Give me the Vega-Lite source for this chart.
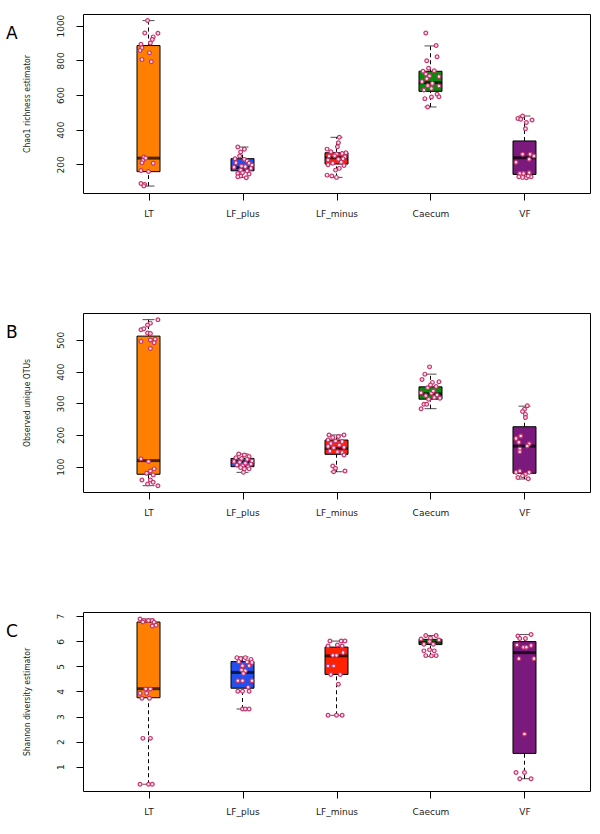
{
  "$schema": "https://vega.github.io/schema/vega-lite/v6.json",
  "padding": {"left": 5, "top": 13, "right": 5, "bottom": 5},
  "background": "white",
  "config": {
    "view": {"stroke": "#000", "strokeWidth": 1},
    "axis": {"grid": false, "domain": false, "tickColor": "#000", "tickSize": 7, "labelFont": "DejaVu Sans", "labelFontSize": 9, "labelColor": "#222", "titleFont": "DejaVu Sans Condensed, DejaVu Sans", "titleFontSize": 8.5, "titleFontWeight": "normal", "titleColor": "#222"},
    "title": {"font": "DejaVu Sans", "fontSize": 17, "fontWeight": "normal", "color": "#000", "anchor": "start", "frame": "group", "offset": 0, "baseline": "alphabetic", "dx": -77, "dy": 33}
  },
  "datasets": {
    "box": [
      {"p":"A","g":"LT","lo":75,"q1":158,"md":236,"q3":885,"hi":1029},
      {"p":"A","g":"LF_plus","lo":125,"q1":163,"md":181,"q3":233,"hi":300},
      {"p":"A","g":"LF_minus","lo":125,"q1":202,"md":238,"q3":267,"hi":356},
      {"p":"A","g":"Caecum","lo":531,"q1":621,"md":671,"q3":737,"hi":883},
      {"p":"A","g":"VF","lo":129,"q1":142,"md":238,"q3":335,"hi":479},
      {"p":"B","g":"LT","lo":40,"q1":76,"md":119,"q3":512,"hi":564},
      {"p":"B","g":"LF_plus","lo":82,"q1":100,"md":116,"q3":126,"hi":140},
      {"p":"B","g":"LF_minus","lo":84,"q1":139,"md":158,"q3":184,"hi":200},
      {"p":"B","g":"Caecum","lo":283,"q1":313,"md":330,"q3":352,"hi":392},
      {"p":"B","g":"VF","lo":61,"q1":79,"md":165,"q3":226,"hi":291},
      {"p":"C","g":"LT","lo":0.30,"q1":3.75,"md":4.11,"q3":6.77,"hi":6.89},
      {"p":"C","g":"LF_plus","lo":3.30,"q1":4.13,"md":4.76,"q3":5.19,"hi":5.38},
      {"p":"C","g":"LF_minus","lo":3.05,"q1":4.68,"md":5.42,"q3":5.77,"hi":6.01},
      {"p":"C","g":"Caecum","lo":5.39,"q1":5.87,"md":5.97,"q3":6.08,"hi":6.23},
      {"p":"C","g":"VF","lo":0.52,"q1":1.53,"md":5.55,"q3":5.99,"hi":6.27}
    ],
    "pts": [
      {"p":"A","g":"LT","v":1029,"j":-0.01},{"p":"A","g":"LT","v":958,"j":-0.04},{"p":"A","g":"LT","v":956,"j":0.1},{"p":"A","g":"LT","v":935,"j":0.05},{"p":"A","g":"LT","v":920,"j":0.04},{"p":"A","g":"LT","v":900,"j":0.02},{"p":"A","g":"LT","v":893,"j":-0.08},{"p":"A","g":"LT","v":872,"j":-0.07},{"p":"A","g":"LT","v":857,"j":-0.09},{"p":"A","g":"LT","v":843,"j":0.01},{"p":"A","g":"LT","v":804,"j":-0.07},{"p":"A","g":"LT","v":792,"j":0.03},{"p":"A","g":"LT","v":243,"j":-0.05},{"p":"A","g":"LT","v":236,"j":-0.03},{"p":"A","g":"LT","v":222,"j":-0.06},{"p":"A","g":"LT","v":210,"j":-0.07},{"p":"A","g":"LT","v":207,"j":0.05},{"p":"A","g":"LT","v":165,"j":-0.08},{"p":"A","g":"LT","v":159,"j":0.0},{"p":"A","g":"LT","v":90,"j":-0.08},{"p":"A","g":"LT","v":84,"j":-0.04},{"p":"A","g":"LT","v":76,"j":-0.05},
      {"p":"A","g":"LF_plus","v":300,"j":-0.05},{"p":"A","g":"LF_plus","v":287,"j":0.02},{"p":"A","g":"LF_plus","v":271,"j":-0.02},{"p":"A","g":"LF_plus","v":248,"j":-0.03},{"p":"A","g":"LF_plus","v":233,"j":-0.08},{"p":"A","g":"LF_plus","v":229,"j":0.02},{"p":"A","g":"LF_plus","v":219,"j":0.05},{"p":"A","g":"LF_plus","v":210,"j":-0.07},{"p":"A","g":"LF_plus","v":206,"j":0.07},{"p":"A","g":"LF_plus","v":196,"j":0.1},{"p":"A","g":"LF_plus","v":190,"j":-0.01},{"p":"A","g":"LF_plus","v":183,"j":-0.09},{"p":"A","g":"LF_plus","v":187,"j":0.03},{"p":"A","g":"LF_plus","v":177,"j":0.09},{"p":"A","g":"LF_plus","v":167,"j":-0.02},{"p":"A","g":"LF_plus","v":162,"j":0.05},{"p":"A","g":"LF_plus","v":152,"j":0.0},{"p":"A","g":"LF_plus","v":148,"j":-0.05},{"p":"A","g":"LF_plus","v":144,"j":0.07},{"p":"A","g":"LF_plus","v":133,"j":-0.02},{"p":"A","g":"LF_plus","v":123,"j":0.04},{"p":"A","g":"LF_plus","v":129,"j":-0.05},
      {"p":"A","g":"LF_minus","v":356,"j":0.03},{"p":"A","g":"LF_minus","v":325,"j":0.02},{"p":"A","g":"LF_minus","v":302,"j":0.01},{"p":"A","g":"LF_minus","v":288,"j":-0.1},{"p":"A","g":"LF_minus","v":273,"j":-0.06},{"p":"A","g":"LF_minus","v":267,"j":0.1},{"p":"A","g":"LF_minus","v":263,"j":0.06},{"p":"A","g":"LF_minus","v":260,"j":0.0},{"p":"A","g":"LF_minus","v":250,"j":-0.02},{"p":"A","g":"LF_minus","v":248,"j":-0.08},{"p":"A","g":"LF_minus","v":244,"j":0.09},{"p":"A","g":"LF_minus","v":233,"j":0.07},{"p":"A","g":"LF_minus","v":229,"j":0.02},{"p":"A","g":"LF_minus","v":225,"j":-0.09},{"p":"A","g":"LF_minus","v":213,"j":0.05},{"p":"A","g":"LF_minus","v":206,"j":-0.04},{"p":"A","g":"LF_minus","v":198,"j":-0.09},{"p":"A","g":"LF_minus","v":194,"j":0.08},{"p":"A","g":"LF_minus","v":177,"j":0.03},{"p":"A","g":"LF_minus","v":167,"j":-0.01},{"p":"A","g":"LF_minus","v":138,"j":-0.1},{"p":"A","g":"LF_minus","v":133,"j":-0.05},{"p":"A","g":"LF_minus","v":125,"j":0.0},
      {"p":"A","g":"Caecum","v":958,"j":-0.05},{"p":"A","g":"Caecum","v":885,"j":0.06},{"p":"A","g":"Caecum","v":821,"j":0.07},{"p":"A","g":"Caecum","v":798,"j":-0.04},{"p":"A","g":"Caecum","v":754,"j":-0.02},{"p":"A","g":"Caecum","v":737,"j":-0.08},{"p":"A","g":"Caecum","v":740,"j":0.04},{"p":"A","g":"Caecum","v":721,"j":-0.05},{"p":"A","g":"Caecum","v":710,"j":-0.01},{"p":"A","g":"Caecum","v":706,"j":0.09},{"p":"A","g":"Caecum","v":694,"j":-0.04},{"p":"A","g":"Caecum","v":677,"j":-0.09},{"p":"A","g":"Caecum","v":667,"j":0.02},{"p":"A","g":"Caecum","v":654,"j":-0.03},{"p":"A","g":"Caecum","v":638,"j":0.01},{"p":"A","g":"Caecum","v":652,"j":0.09},{"p":"A","g":"Caecum","v":629,"j":-0.07},{"p":"A","g":"Caecum","v":604,"j":0.07},{"p":"A","g":"Caecum","v":590,"j":0.09},{"p":"A","g":"Caecum","v":588,"j":0.01},{"p":"A","g":"Caecum","v":579,"j":-0.06},{"p":"A","g":"Caecum","v":531,"j":-0.03},
      {"p":"A","g":"VF","v":479,"j":-0.02},{"p":"A","g":"VF","v":465,"j":-0.07},{"p":"A","g":"VF","v":460,"j":-0.04},{"p":"A","g":"VF","v":442,"j":0.02},{"p":"A","g":"VF","v":456,"j":0.08},{"p":"A","g":"VF","v":406,"j":0.01},{"p":"A","g":"VF","v":258,"j":-0.02},{"p":"A","g":"VF","v":258,"j":0.06},{"p":"A","g":"VF","v":248,"j":0.1},{"p":"A","g":"VF","v":229,"j":0.05},{"p":"A","g":"VF","v":212,"j":-0.09},{"p":"A","g":"VF","v":148,"j":-0.05},{"p":"A","g":"VF","v":148,"j":-0.01},{"p":"A","g":"VF","v":152,"j":0.05},{"p":"A","g":"VF","v":129,"j":-0.06},{"p":"A","g":"VF","v":125,"j":-0.02},{"p":"A","g":"VF","v":123,"j":0.02},{"p":"A","g":"VF","v":129,"j":0.07},{"p":"A","g":"VF","v":133,"j":0.04},
      {"p":"B","g":"LT","v":564,"j":0.1},{"p":"B","g":"LT","v":553,"j":0.02},{"p":"B","g":"LT","v":547,"j":-0.01},{"p":"B","g":"LT","v":532,"j":-0.08},{"p":"B","g":"LT","v":535,"j":-0.05},{"p":"B","g":"LT","v":522,"j":-0.01},{"p":"B","g":"LT","v":520,"j":0.02},{"p":"B","g":"LT","v":495,"j":-0.08},{"p":"B","g":"LT","v":500,"j":0.02},{"p":"B","g":"LT","v":502,"j":0.07},{"p":"B","g":"LT","v":491,"j":0.06},{"p":"B","g":"LT","v":473,"j":0.02},{"p":"B","g":"LT","v":125,"j":-0.08},{"p":"B","g":"LT","v":116,"j":0.0},{"p":"B","g":"LT","v":93,"j":0.06},{"p":"B","g":"LT","v":86,"j":0.02},{"p":"B","g":"LT","v":79,"j":-0.02},{"p":"B","g":"LT","v":74,"j":0.05},{"p":"B","g":"LT","v":58,"j":-0.07},{"p":"B","g":"LT","v":58,"j":0.02},{"p":"B","g":"LT","v":51,"j":0.05},{"p":"B","g":"LT","v":45,"j":-0.01},{"p":"B","g":"LT","v":40,"j":0.1},
      {"p":"B","g":"LF_plus","v":140,"j":-0.04},{"p":"B","g":"LF_plus","v":137,"j":0.02},{"p":"B","g":"LF_plus","v":132,"j":0.07},{"p":"B","g":"LF_plus","v":128,"j":-0.07},{"p":"B","g":"LF_plus","v":126,"j":-0.01},{"p":"B","g":"LF_plus","v":123,"j":0.05},{"p":"B","g":"LF_plus","v":118,"j":0.1},{"p":"B","g":"LF_plus","v":116,"j":-0.09},{"p":"B","g":"LF_plus","v":114,"j":-0.03},{"p":"B","g":"LF_plus","v":111,"j":0.03},{"p":"B","g":"LF_plus","v":108,"j":0.09},{"p":"B","g":"LF_plus","v":105,"j":-0.06},{"p":"B","g":"LF_plus","v":103,"j":0.0},{"p":"B","g":"LF_plus","v":100,"j":0.06},{"p":"B","g":"LF_plus","v":97,"j":-0.02},{"p":"B","g":"LF_plus","v":93,"j":0.02},{"p":"B","g":"LF_plus","v":93,"j":0.07},{"p":"B","g":"LF_plus","v":82,"j":0.01},
      {"p":"B","g":"LF_minus","v":200,"j":-0.08},{"p":"B","g":"LF_minus","v":200,"j":0.08},{"p":"B","g":"LF_minus","v":192,"j":-0.04},{"p":"B","g":"LF_minus","v":195,"j":0.02},{"p":"B","g":"LF_minus","v":184,"j":-0.09},{"p":"B","g":"LF_minus","v":181,"j":-0.01},{"p":"B","g":"LF_minus","v":179,"j":0.06},{"p":"B","g":"LF_minus","v":173,"j":-0.06},{"p":"B","g":"LF_minus","v":168,"j":0.03},{"p":"B","g":"LF_minus","v":164,"j":-0.09},{"p":"B","g":"LF_minus","v":160,"j":-0.03},{"p":"B","g":"LF_minus","v":161,"j":0.08},{"p":"B","g":"LF_minus","v":149,"j":-0.07},{"p":"B","g":"LF_minus","v":147,"j":0.01},{"p":"B","g":"LF_minus","v":145,"j":0.06},{"p":"B","g":"LF_minus","v":137,"j":0.08},{"p":"B","g":"LF_minus","v":102,"j":-0.04},{"p":"B","g":"LF_minus","v":95,"j":-0.01},{"p":"B","g":"LF_minus","v":84,"j":-0.03},{"p":"B","g":"LF_minus","v":86,"j":0.09},
      {"p":"B","g":"Caecum","v":415,"j":-0.01},{"p":"B","g":"Caecum","v":392,"j":-0.06},{"p":"B","g":"Caecum","v":375,"j":-0.09},{"p":"B","g":"Caecum","v":366,"j":0.02},{"p":"B","g":"Caecum","v":368,"j":0.09},{"p":"B","g":"Caecum","v":358,"j":0.0},{"p":"B","g":"Caecum","v":353,"j":0.06},{"p":"B","g":"Caecum","v":349,"j":-0.03},{"p":"B","g":"Caecum","v":333,"j":-0.1},{"p":"B","g":"Caecum","v":332,"j":0.01},{"p":"B","g":"Caecum","v":326,"j":0.07},{"p":"B","g":"Caecum","v":324,"j":-0.05},{"p":"B","g":"Caecum","v":318,"j":0.04},{"p":"B","g":"Caecum","v":313,"j":-0.02},{"p":"B","g":"Caecum","v":297,"j":-0.07},{"p":"B","g":"Caecum","v":297,"j":-0.04},{"p":"B","g":"Caecum","v":283,"j":-0.1},{"p":"B","g":"Caecum","v":339,"j":0.03},{"p":"B","g":"Caecum","v":316,"j":0.1},
      {"p":"B","g":"VF","v":292,"j":0.03},{"p":"B","g":"VF","v":281,"j":0.0},{"p":"B","g":"VF","v":274,"j":-0.02},{"p":"B","g":"VF","v":265,"j":0.01},{"p":"B","g":"VF","v":255,"j":0.01},{"p":"B","g":"VF","v":197,"j":-0.04},{"p":"B","g":"VF","v":189,"j":-0.09},{"p":"B","g":"VF","v":177,"j":-0.06},{"p":"B","g":"VF","v":172,"j":0.05},{"p":"B","g":"VF","v":165,"j":0.03},{"p":"B","g":"VF","v":156,"j":-0.05},{"p":"B","g":"VF","v":147,"j":-0.05},{"p":"B","g":"VF","v":82,"j":-0.09},{"p":"B","g":"VF","v":86,"j":-0.05},{"p":"B","g":"VF","v":82,"j":0.05},{"p":"B","g":"VF","v":76,"j":0.01},{"p":"B","g":"VF","v":71,"j":-0.02},{"p":"B","g":"VF","v":66,"j":-0.07},{"p":"B","g":"VF","v":62,"j":0.04},
      {"p":"C","g":"LT","v":6.89,"j":-0.09},{"p":"C","g":"LT","v":6.83,"j":-0.05},{"p":"C","g":"LT","v":6.83,"j":0.0},{"p":"C","g":"LT","v":6.77,"j":-0.06},{"p":"C","g":"LT","v":6.83,"j":0.04},{"p":"C","g":"LT","v":6.76,"j":0.06},{"p":"C","g":"LT","v":6.64,"j":0.08},{"p":"C","g":"LT","v":6.61,"j":0.04},{"p":"C","g":"LT","v":4.10,"j":-0.03},{"p":"C","g":"LT","v":4.10,"j":0.02},{"p":"C","g":"LT","v":3.93,"j":-0.09},{"p":"C","g":"LT","v":3.93,"j":-0.02},{"p":"C","g":"LT","v":3.73,"j":-0.07},{"p":"C","g":"LT","v":3.73,"j":0.01},{"p":"C","g":"LT","v":2.13,"j":-0.06},{"p":"C","g":"LT","v":2.13,"j":0.02},{"p":"C","g":"LT","v":0.30,"j":-0.09},{"p":"C","g":"LT","v":0.30,"j":0.0},{"p":"C","g":"LT","v":0.30,"j":0.04},
      {"p":"C","g":"LF_plus","v":5.35,"j":-0.06},{"p":"C","g":"LF_plus","v":5.31,"j":-0.02},{"p":"C","g":"LF_plus","v":5.35,"j":0.03},{"p":"C","g":"LF_plus","v":5.28,"j":0.09},{"p":"C","g":"LF_plus","v":5.19,"j":-0.04},{"p":"C","g":"LF_plus","v":5.18,"j":0.05},{"p":"C","g":"LF_plus","v":5.16,"j":0.1},{"p":"C","g":"LF_plus","v":5.03,"j":0.0},{"p":"C","g":"LF_plus","v":5.03,"j":0.07},{"p":"C","g":"LF_plus","v":4.86,"j":-0.01},{"p":"C","g":"LF_plus","v":4.83,"j":0.03},{"p":"C","g":"LF_plus","v":4.72,"j":0.01},{"p":"C","g":"LF_plus","v":4.43,"j":-0.05},{"p":"C","g":"LF_plus","v":4.43,"j":0.0},{"p":"C","g":"LF_plus","v":4.43,"j":0.1},{"p":"C","g":"LF_plus","v":4.17,"j":0.06},{"p":"C","g":"LF_plus","v":4.01,"j":-0.05},{"p":"C","g":"LF_plus","v":4.01,"j":0.0},{"p":"C","g":"LF_plus","v":4.01,"j":0.07},{"p":"C","g":"LF_plus","v":3.30,"j":0.0},{"p":"C","g":"LF_plus","v":3.30,"j":0.03},{"p":"C","g":"LF_plus","v":3.30,"j":0.07},
      {"p":"C","g":"LF_minus","v":6.01,"j":-0.07},{"p":"C","g":"LF_minus","v":6.01,"j":0.05},{"p":"C","g":"LF_minus","v":6.01,"j":0.09},{"p":"C","g":"LF_minus","v":5.81,"j":-0.09},{"p":"C","g":"LF_minus","v":5.85,"j":0.01},{"p":"C","g":"LF_minus","v":5.81,"j":0.06},{"p":"C","g":"LF_minus","v":5.44,"j":-0.04},{"p":"C","g":"LF_minus","v":5.44,"j":0.0},{"p":"C","g":"LF_minus","v":5.55,"j":0.07},{"p":"C","g":"LF_minus","v":5.02,"j":-0.09},{"p":"C","g":"LF_minus","v":5.02,"j":-0.03},{"p":"C","g":"LF_minus","v":4.68,"j":-0.06},{"p":"C","g":"LF_minus","v":4.68,"j":0.04},{"p":"C","g":"LF_minus","v":4.29,"j":0.02},{"p":"C","g":"LF_minus","v":3.05,"j":-0.09},{"p":"C","g":"LF_minus","v":3.05,"j":0.0},{"p":"C","g":"LF_minus","v":3.05,"j":0.06},
      {"p":"C","g":"Caecum","v":6.23,"j":-0.05},{"p":"C","g":"Caecum","v":6.23,"j":0.06},{"p":"C","g":"Caecum","v":6.09,"j":-0.1},{"p":"C","g":"Caecum","v":6.13,"j":0.0},{"p":"C","g":"Caecum","v":6.05,"j":0.09},{"p":"C","g":"Caecum","v":5.88,"j":-0.07},{"p":"C","g":"Caecum","v":5.88,"j":0.03},{"p":"C","g":"Caecum","v":5.99,"j":-0.01},{"p":"C","g":"Caecum","v":5.62,"j":-0.07},{"p":"C","g":"Caecum","v":5.66,"j":-0.01},{"p":"C","g":"Caecum","v":5.62,"j":0.04},{"p":"C","g":"Caecum","v":5.43,"j":-0.05},{"p":"C","g":"Caecum","v":5.42,"j":0.01},{"p":"C","g":"Caecum","v":5.43,"j":0.06},
      {"p":"C","g":"VF","v":6.21,"j":-0.07},{"p":"C","g":"VF","v":6.27,"j":0.07},{"p":"C","g":"VF","v":6.11,"j":-0.05},{"p":"C","g":"VF","v":6.11,"j":0.01},{"p":"C","g":"VF","v":5.85,"j":-0.08},{"p":"C","g":"VF","v":5.76,"j":-0.01},{"p":"C","g":"VF","v":5.76,"j":0.02},{"p":"C","g":"VF","v":5.83,"j":0.07},{"p":"C","g":"VF","v":5.31,"j":-0.06},{"p":"C","g":"VF","v":5.31,"j":0.1},{"p":"C","g":"VF","v":2.30,"j":0.0},{"p":"C","g":"VF","v":0.77,"j":-0.09},{"p":"C","g":"VF","v":0.77,"j":0.0},{"p":"C","g":"VF","v":0.52,"j":-0.05},{"p":"C","g":"VF","v":0.52,"j":0.07}
    ]
  },
  "spacing": 93,
  "vconcat": [
    {
      "width": 507, "height": 179,
      "title": {"text": "A"},
      "encoding": {
        "x": {"field": "g", "type": "nominal", "sort": ["LT","LF_plus","LF_minus","Caecum","VF"], "scale": {"type": "point", "padding": 0.697}, "axis": {"title": null, "labelAngle": 0, "labelPadding": 9}}
      },
      "layer": [
        {"data": {"name": "box"}, "transform": [{"filter": "datum.p == 'A'"}], "mark": {"type": "rule", "strokeDash": [4, 3], "color": "#000"}, "encoding": {"y": {"field": "q3", "type": "quantitative", "scale": {"domain": [35, 1067], "nice": false, "zero": false}, "axis": {"title": "Chao1 richness estimator", "values": [200, 400, 600, 800, 1000], "format": "d", "labelAngle": 270, "labelAlign": "center", "labelBaseline": "alphabetic", "labelPadding": 13, "titlePadding": 25}}, "y2": {"field": "hi"}}},
        {"data": {"name": "box"}, "transform": [{"filter": "datum.p == 'A'"}], "mark": {"type": "rule", "strokeDash": [4, 3], "color": "#000"}, "encoding": {"y": {"field": "lo", "type": "quantitative", "scale": {"domain": [35, 1067], "nice": false, "zero": false}, "axis": {"title": "Chao1 richness estimator", "values": [200, 400, 600, 800, 1000], "format": "d", "labelAngle": 270, "labelAlign": "center", "labelBaseline": "alphabetic", "labelPadding": 13, "titlePadding": 25}}, "y2": {"field": "q1"}}},
        {"data": {"name": "box"}, "transform": [{"filter": "datum.p == 'A'"}], "mark": {"type": "tick", "color": "#000", "size": 12, "thickness": 1}, "encoding": {"y": {"field": "hi", "type": "quantitative", "scale": {"domain": [35, 1067], "nice": false, "zero": false}, "axis": {"title": "Chao1 richness estimator", "values": [200, 400, 600, 800, 1000], "format": "d", "labelAngle": 270, "labelAlign": "center", "labelBaseline": "alphabetic", "labelPadding": 13, "titlePadding": 25}}}},
        {"data": {"name": "box"}, "transform": [{"filter": "datum.p == 'A'"}], "mark": {"type": "tick", "color": "#000", "size": 12, "thickness": 1}, "encoding": {"y": {"field": "lo", "type": "quantitative", "scale": {"domain": [35, 1067], "nice": false, "zero": false}, "axis": {"title": "Chao1 richness estimator", "values": [200, 400, 600, 800, 1000], "format": "d", "labelAngle": 270, "labelAlign": "center", "labelBaseline": "alphabetic", "labelPadding": 13, "titlePadding": 25}}}},
        {"data": {"name": "box"}, "transform": [{"filter": "datum.p == 'A'"}], "mark": {"type": "bar", "size": 23, "stroke": "#000", "strokeWidth": 1}, "encoding": {"y": {"field": "q1", "type": "quantitative", "scale": {"domain": [35, 1067], "nice": false, "zero": false}, "axis": {"title": "Chao1 richness estimator", "values": [200, 400, 600, 800, 1000], "format": "d", "labelAngle": 270, "labelAlign": "center", "labelBaseline": "alphabetic", "labelPadding": 13, "titlePadding": 25}}, "y2": {"field": "q3"}, "fill": {"field": "g", "type": "nominal", "scale": {"domain": ["LT","LF_plus","LF_minus","Caecum","VF"], "range": ["#FF7F00","#1F50F0","#FF2200","#0A8A0A","#7A1A7C"]}, "legend": null}}},
        {"data": {"name": "box"}, "transform": [{"filter": "datum.p == 'A'"}], "mark": {"type": "tick", "color": "#000", "size": 23, "thickness": 3}, "encoding": {"y": {"field": "md", "type": "quantitative", "scale": {"domain": [35, 1067], "nice": false, "zero": false}, "axis": {"title": "Chao1 richness estimator", "values": [200, 400, 600, 800, 1000], "format": "d", "labelAngle": 270, "labelAlign": "center", "labelBaseline": "alphabetic", "labelPadding": 13, "titlePadding": 25}}}},
        {"data": {"name": "pts"}, "transform": [{"filter": "datum.p == 'A'"}], "mark": {"type": "point", "shape": "circle", "size": 14, "fill": "#FBE3EC", "fillOpacity": 1, "stroke": "#C8336E", "strokeWidth": 1.2, "opacity": 1}, "encoding": {"xOffset": {"field": "j", "type": "quantitative", "scale": {"domain": [-1, 1], "range": [-94, 94]}}, "y": {"field": "v", "type": "quantitative", "scale": {"domain": [35, 1067], "nice": false, "zero": false}, "axis": {"title": "Chao1 richness estimator", "values": [200, 400, 600, 800, 1000], "format": "d", "labelAngle": 270, "labelAlign": "center", "labelBaseline": "alphabetic", "labelPadding": 13, "titlePadding": 25}}}}
      ]
    },
    {
      "width": 507, "height": 179,
      "title": {"text": "B"},
      "encoding": {
        "x": {"field": "g", "type": "nominal", "sort": ["LT","LF_plus","LF_minus","Caecum","VF"], "scale": {"type": "point", "padding": 0.697}, "axis": {"title": null, "labelAngle": 0, "labelPadding": 9}}
      },
      "layer": [
        {"data": {"name": "box"}, "transform": [{"filter": "datum.p == 'B'"}], "mark": {"type": "rule", "strokeDash": [4, 3], "color": "#000"}, "encoding": {"y": {"field": "q3", "type": "quantitative", "scale": {"domain": [20, 585], "nice": false, "zero": false}, "axis": {"title": "Observed unique OTUs", "values": [100, 200, 300, 400, 500], "format": "d", "labelAngle": 270, "labelAlign": "center", "labelBaseline": "alphabetic", "labelPadding": 13, "titlePadding": 25}}, "y2": {"field": "hi"}}},
        {"data": {"name": "box"}, "transform": [{"filter": "datum.p == 'B'"}], "mark": {"type": "rule", "strokeDash": [4, 3], "color": "#000"}, "encoding": {"y": {"field": "lo", "type": "quantitative", "scale": {"domain": [20, 585], "nice": false, "zero": false}, "axis": {"title": "Observed unique OTUs", "values": [100, 200, 300, 400, 500], "format": "d", "labelAngle": 270, "labelAlign": "center", "labelBaseline": "alphabetic", "labelPadding": 13, "titlePadding": 25}}, "y2": {"field": "q1"}}},
        {"data": {"name": "box"}, "transform": [{"filter": "datum.p == 'B'"}], "mark": {"type": "tick", "color": "#000", "size": 12, "thickness": 1}, "encoding": {"y": {"field": "hi", "type": "quantitative", "scale": {"domain": [20, 585], "nice": false, "zero": false}, "axis": {"title": "Observed unique OTUs", "values": [100, 200, 300, 400, 500], "format": "d", "labelAngle": 270, "labelAlign": "center", "labelBaseline": "alphabetic", "labelPadding": 13, "titlePadding": 25}}}},
        {"data": {"name": "box"}, "transform": [{"filter": "datum.p == 'B'"}], "mark": {"type": "tick", "color": "#000", "size": 12, "thickness": 1}, "encoding": {"y": {"field": "lo", "type": "quantitative", "scale": {"domain": [20, 585], "nice": false, "zero": false}, "axis": {"title": "Observed unique OTUs", "values": [100, 200, 300, 400, 500], "format": "d", "labelAngle": 270, "labelAlign": "center", "labelBaseline": "alphabetic", "labelPadding": 13, "titlePadding": 25}}}},
        {"data": {"name": "box"}, "transform": [{"filter": "datum.p == 'B'"}], "mark": {"type": "bar", "size": 23, "stroke": "#000", "strokeWidth": 1}, "encoding": {"y": {"field": "q1", "type": "quantitative", "scale": {"domain": [20, 585], "nice": false, "zero": false}, "axis": {"title": "Observed unique OTUs", "values": [100, 200, 300, 400, 500], "format": "d", "labelAngle": 270, "labelAlign": "center", "labelBaseline": "alphabetic", "labelPadding": 13, "titlePadding": 25}}, "y2": {"field": "q3"}, "fill": {"field": "g", "type": "nominal", "scale": {"domain": ["LT","LF_plus","LF_minus","Caecum","VF"], "range": ["#FF7F00","#1F50F0","#FF2200","#0A8A0A","#7A1A7C"]}, "legend": null}}},
        {"data": {"name": "box"}, "transform": [{"filter": "datum.p == 'B'"}], "mark": {"type": "tick", "color": "#000", "size": 23, "thickness": 3}, "encoding": {"y": {"field": "md", "type": "quantitative", "scale": {"domain": [20, 585], "nice": false, "zero": false}, "axis": {"title": "Observed unique OTUs", "values": [100, 200, 300, 400, 500], "format": "d", "labelAngle": 270, "labelAlign": "center", "labelBaseline": "alphabetic", "labelPadding": 13, "titlePadding": 25}}}},
        {"data": {"name": "pts"}, "transform": [{"filter": "datum.p == 'B'"}], "mark": {"type": "point", "shape": "circle", "size": 14, "fill": "#FBE3EC", "fillOpacity": 1, "stroke": "#C8336E", "strokeWidth": 1.2, "opacity": 1}, "encoding": {"xOffset": {"field": "j", "type": "quantitative", "scale": {"domain": [-1, 1], "range": [-94, 94]}}, "y": {"field": "v", "type": "quantitative", "scale": {"domain": [20, 585], "nice": false, "zero": false}, "axis": {"title": "Observed unique OTUs", "values": [100, 200, 300, 400, 500], "format": "d", "labelAngle": 270, "labelAlign": "center", "labelBaseline": "alphabetic", "labelPadding": 13, "titlePadding": 25}}}}
      ]
    },
    {
      "width": 507, "height": 179,
      "title": {"text": "C"},
      "encoding": {
        "x": {"field": "g", "type": "nominal", "sort": ["LT","LF_plus","LF_minus","Caecum","VF"], "scale": {"type": "point", "padding": 0.697}, "axis": {"title": null, "labelAngle": 0, "labelPadding": 9}}
      },
      "layer": [
        {"data": {"name": "box"}, "transform": [{"filter": "datum.p == 'C'"}], "mark": {"type": "rule", "strokeDash": [4, 3], "color": "#000"}, "encoding": {"y": {"field": "q3", "type": "quantitative", "scale": {"domain": [0.03, 7.17], "nice": false, "zero": false}, "axis": {"title": "Shannon diversity estimator", "values": [1, 2, 3, 4, 5, 6, 7], "format": "d", "labelAngle": 270, "labelAlign": "center", "labelBaseline": "alphabetic", "labelPadding": 13, "titlePadding": 25}}, "y2": {"field": "hi"}}},
        {"data": {"name": "box"}, "transform": [{"filter": "datum.p == 'C'"}], "mark": {"type": "rule", "strokeDash": [4, 3], "color": "#000"}, "encoding": {"y": {"field": "lo", "type": "quantitative", "scale": {"domain": [0.03, 7.17], "nice": false, "zero": false}, "axis": {"title": "Shannon diversity estimator", "values": [1, 2, 3, 4, 5, 6, 7], "format": "d", "labelAngle": 270, "labelAlign": "center", "labelBaseline": "alphabetic", "labelPadding": 13, "titlePadding": 25}}, "y2": {"field": "q1"}}},
        {"data": {"name": "box"}, "transform": [{"filter": "datum.p == 'C'"}], "mark": {"type": "tick", "color": "#000", "size": 12, "thickness": 1}, "encoding": {"y": {"field": "hi", "type": "quantitative", "scale": {"domain": [0.03, 7.17], "nice": false, "zero": false}, "axis": {"title": "Shannon diversity estimator", "values": [1, 2, 3, 4, 5, 6, 7], "format": "d", "labelAngle": 270, "labelAlign": "center", "labelBaseline": "alphabetic", "labelPadding": 13, "titlePadding": 25}}}},
        {"data": {"name": "box"}, "transform": [{"filter": "datum.p == 'C'"}], "mark": {"type": "tick", "color": "#000", "size": 12, "thickness": 1}, "encoding": {"y": {"field": "lo", "type": "quantitative", "scale": {"domain": [0.03, 7.17], "nice": false, "zero": false}, "axis": {"title": "Shannon diversity estimator", "values": [1, 2, 3, 4, 5, 6, 7], "format": "d", "labelAngle": 270, "labelAlign": "center", "labelBaseline": "alphabetic", "labelPadding": 13, "titlePadding": 25}}}},
        {"data": {"name": "box"}, "transform": [{"filter": "datum.p == 'C'"}], "mark": {"type": "bar", "size": 23, "stroke": "#000", "strokeWidth": 1}, "encoding": {"y": {"field": "q1", "type": "quantitative", "scale": {"domain": [0.03, 7.17], "nice": false, "zero": false}, "axis": {"title": "Shannon diversity estimator", "values": [1, 2, 3, 4, 5, 6, 7], "format": "d", "labelAngle": 270, "labelAlign": "center", "labelBaseline": "alphabetic", "labelPadding": 13, "titlePadding": 25}}, "y2": {"field": "q3"}, "fill": {"field": "g", "type": "nominal", "scale": {"domain": ["LT","LF_plus","LF_minus","Caecum","VF"], "range": ["#FF7F00","#1F50F0","#FF2200","#0A8A0A","#7A1A7C"]}, "legend": null}}},
        {"data": {"name": "box"}, "transform": [{"filter": "datum.p == 'C'"}], "mark": {"type": "tick", "color": "#000", "size": 23, "thickness": 3}, "encoding": {"y": {"field": "md", "type": "quantitative", "scale": {"domain": [0.03, 7.17], "nice": false, "zero": false}, "axis": {"title": "Shannon diversity estimator", "values": [1, 2, 3, 4, 5, 6, 7], "format": "d", "labelAngle": 270, "labelAlign": "center", "labelBaseline": "alphabetic", "labelPadding": 13, "titlePadding": 25}}}},
        {"data": {"name": "pts"}, "transform": [{"filter": "datum.p == 'C'"}], "mark": {"type": "point", "shape": "circle", "size": 14, "fill": "#FBE3EC", "fillOpacity": 1, "stroke": "#C8336E", "strokeWidth": 1.2, "opacity": 1}, "encoding": {"xOffset": {"field": "j", "type": "quantitative", "scale": {"domain": [-1, 1], "range": [-94, 94]}}, "y": {"field": "v", "type": "quantitative", "scale": {"domain": [0.03, 7.17], "nice": false, "zero": false}, "axis": {"title": "Shannon diversity estimator", "values": [1, 2, 3, 4, 5, 6, 7], "format": "d", "labelAngle": 270, "labelAlign": "center", "labelBaseline": "alphabetic", "labelPadding": 13, "titlePadding": 25}}}}
      ]
    }
  ]
}
